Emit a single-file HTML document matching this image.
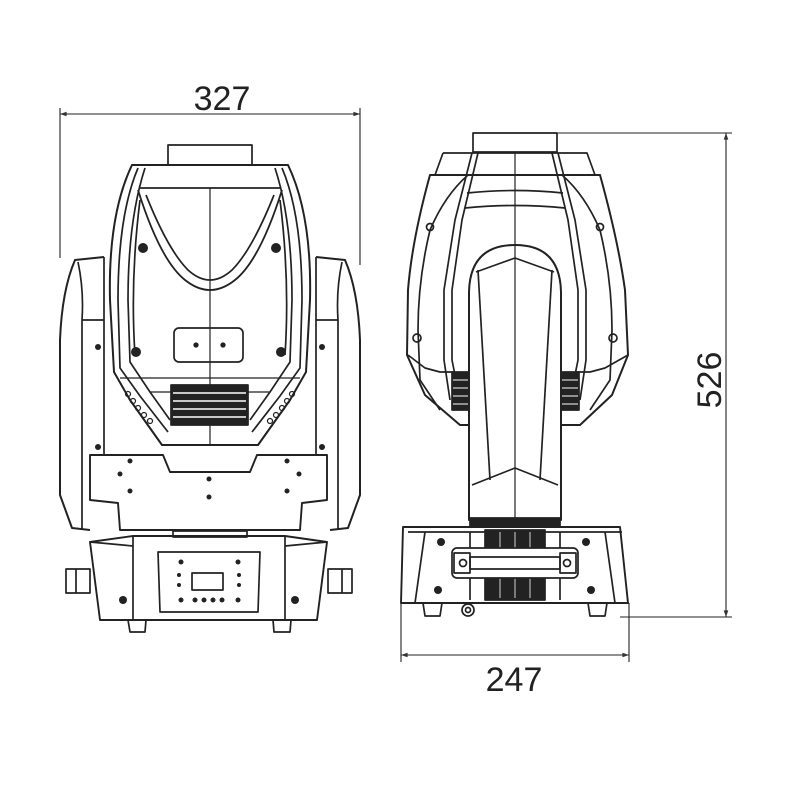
<!DOCTYPE html>
<html><head><meta charset="utf-8"><style>
html,body{margin:0;padding:0;background:#fff;}
svg{display:block}
text{font-family:"Liberation Sans",sans-serif;fill:#222}
</style></head><body>
<svg width="800" height="800" viewBox="0 0 800 800" xmlns="http://www.w3.org/2000/svg">
<defs>
<marker id="ar" viewBox="0 0 10 10" refX="10" refY="5" markerWidth="10" markerHeight="6" orient="auto-start-reverse"><path d="M0,1.5 L10,5 L0,8.5z" fill="#333"/></marker>
</defs>
<g fill="none" stroke="#222" stroke-width="1.7" stroke-linejoin="round">
<line x1="60" y1="108" x2="60" y2="258" stroke-width="1.1"/>
<line x1="360" y1="108" x2="360" y2="265" stroke-width="1.1"/>
<line x1="60" y1="114" x2="360" y2="114" stroke-width="1.1" marker-start="url(#ar)" marker-end="url(#ar)"/>

<rect x="168" y="145" width="84" height="20"/>
<path d="M132,165 L288,165 Q312,215 310,300 L306,372 L290,400 L258,445 L162,445 L130,400 L114,372 L110,300 Q108,215 132,165Z" stroke-width="2"/>
<path d="M138,168 Q118,215 118,300 L120,368 L140,396 L168,432" />
<path d="M282,168 Q302,215 302,300 L300,368 L280,396 L252,432" />
<path d="M145,168 Q128,220 128,300 L130,362 L150,392 L170,420" />
<path d="M275,168 Q292,220 292,300 L290,362 L270,392 L250,420" />
<line x1="140" y1="188" x2="280" y2="188"/>
<line x1="210" y1="188" x2="210" y2="445" stroke-width="1.2"/>
<path d="M138,190 Q160,260 185,280 Q210,300 235,280 Q260,260 282,190" stroke-width="1.8"/>
<path d="M146,195 Q168,250 188,270 Q210,290 232,270 Q252,250 274,195"/>
<path d="M140,200 Q130,280 135,355" />
<path d="M280,200 Q290,280 285,355" />
<rect x="174" y="328" width="69" height="34" rx="5"/>
<circle cx="196" cy="345" r="1.8" fill="#222"/>
<circle cx="223" cy="345" r="1.8" fill="#222"/>
<line x1="120" y1="378" x2="300" y2="378" stroke-width="1.2"/>
<line x1="150" y1="392" x2="270" y2="392" stroke-width="1.2"/>
<rect x="171" y="385" width="77" height="40" fill="#222"/>
<g stroke="#fff" stroke-width="1.5"><line x1="173" y1="393" x2="246" y2="393"/><line x1="173" y1="401" x2="246" y2="401"/><line x1="173" y1="409" x2="246" y2="409"/><line x1="173" y1="417" x2="246" y2="417"/></g>
<g stroke-width="1.2"><circle cx="128" cy="394" r="2.5"/><circle cx="133" cy="401" r="2.5"/><circle cx="138" cy="408" r="2.5"/><circle cx="144" cy="415" r="2.5"/><circle cx="150" cy="421" r="2.5"/>
<circle cx="292" cy="394" r="2.5"/><circle cx="287" cy="401" r="2.5"/><circle cx="282" cy="408" r="2.5"/><circle cx="276" cy="415" r="2.5"/><circle cx="270" cy="421" r="2.5"/></g>
<g fill="#222" stroke="none"><circle cx="143" cy="248" r="5"/><circle cx="276" cy="248" r="5"/><circle cx="136" cy="352" r="5"/><circle cx="281" cy="352" r="5"/></g>
<path d="M104,257 L75,260 Q62,290 60,340 L60,495 L72,528 L90,530" stroke-width="2"/>
<path d="M78,262 Q84,290 82,320 L82,530"/>
<line x1="82" y1="320" x2="104" y2="320"/>
<line x1="104" y1="257" x2="104" y2="455"/>
<path d="M316,257 L345,260 Q358,290 360,340 L360,495 L348,528 L330,530" stroke-width="2"/>
<path d="M342,262 Q336,290 338,320 L338,530"/>
<line x1="338" y1="320" x2="316" y2="320"/>
<line x1="316" y1="257" x2="316" y2="455"/>
<g fill="#222" stroke="none"><circle cx="98" cy="347" r="3"/><circle cx="98" cy="447" r="3"/><circle cx="322" cy="347" r="3"/><circle cx="322" cy="447" r="3"/></g>
<path d="M90,455 L163,455 L170,472 L250,472 L257,455 L327,455 L327,500 L302,503 L300,530 L120,530 L118,503 L90,500Z" stroke-width="1.9"/>
<g fill="#222" stroke="none"><circle cx="130" cy="461" r="2.5"/><circle cx="120" cy="474" r="2.5"/><circle cx="130" cy="491" r="2.5"/><circle cx="209" cy="479" r="2.5"/><circle cx="209" cy="497" r="2.5"/><circle cx="287" cy="461" r="2.5"/><circle cx="299" cy="474" r="2.5"/><circle cx="287" cy="491" r="2.5"/></g>
<rect x="173" y="531" width="74" height="6"/>
<path d="M90,542 L133,536 L285,536 L327,542 L317,620 L100,620Z" stroke-width="1.9"/>
<line x1="133" y1="536" x2="133" y2="620"/>
<line x1="285" y1="536" x2="285" y2="620"/>
<path d="M90,542 L133,546"/><path d="M327,542 L285,546"/>
<path d="M158,552 L260,552 L258,612 L160,612Z"/>
<rect x="192" y="573" width="31" height="17"/>
<g fill="#222" stroke="none"><circle cx="181" cy="562" r="2.5"/><circle cx="238" cy="562" r="2.5"/><circle cx="179" cy="575" r="2"/><circle cx="179" cy="585" r="2"/><circle cx="239" cy="575" r="2"/><circle cx="239" cy="585" r="2"/>
<circle cx="181" cy="600" r="2.5"/><circle cx="195" cy="600" r="2.5"/><circle cx="204" cy="600" r="2.5"/><circle cx="213" cy="600" r="2.5"/><circle cx="222" cy="600" r="2.5"/><circle cx="238" cy="600" r="2.5"/>
<circle cx="123" cy="600" r="4"/><circle cx="295" cy="600" r="4"/></g>
<rect x="66" y="569" width="24" height="24"/><line x1="76" y1="569" x2="76" y2="593"/>
<rect x="328" y="569" width="24" height="24"/><line x1="342" y1="569" x2="342" y2="593"/>
<path d="M128,620 L130,632 L145,632 L146,620"/>
<path d="M273,620 L274,632 L290,632 L291,620"/>

<rect x="473" y="133" width="84" height="19"/>
<line x1="557" y1="133" x2="732" y2="133" stroke-width="1.1"/>
<line x1="726" y1="133" x2="726" y2="617" stroke-width="1.1" marker-start="url(#ar)" marker-end="url(#ar)"/>
<line x1="620" y1="617" x2="732" y2="617" stroke-width="1.1"/>
<path d="M443,153 L587,153 L595,175"/>
<path d="M443,153 L435,175"/>
<path d="M430,175 L600,175 Q618,240 625,290 L628,355 L612,395 L580,425 L460,425 L425,395 L407,355 L408,290 Q412,240 430,175Z" stroke-width="2"/>
<path d="M468,175 Q445,195 430,230 Q418,280 418,330 L420,380 L440,410"/>
<path d="M562,175 Q585,195 600,230 Q612,280 612,330 L610,380 L590,410"/>
<path d="M478,153 L462,220 L452,290 L452,360 L460,400"/>
<path d="M552,153 L568,220 L578,290 L578,360 L570,400"/>
<path d="M472,153 L455,220 L444,290 L444,360 L450,400"/>
<path d="M558,153 L575,220 L586,290 L586,360 L580,400"/>
<line x1="515" y1="153" x2="515" y2="518" stroke-width="1.2"/>
<path d="M467,193 Q515,188 563,193"/>
<path d="M465,208 Q515,203 565,208"/>
<circle cx="430" cy="227" r="3.5"/><circle cx="600" cy="227" r="3.5"/>
<circle cx="417" cy="338" r="4"/><circle cx="613" cy="338" r="4"/>
<path d="M408,355 L425,368 L440,372 L455,372"/><path d="M628,355 L605,368 L590,372 L575,372"/>
<rect x="452" y="372" width="18" height="38" fill="#222"/>
<rect x="561" y="372" width="18" height="38" fill="#222"/>
<g stroke="#fff" stroke-width="1"><line x1="453" y1="380" x2="469" y2="380"/><line x1="453" y1="388" x2="469" y2="388"/><line x1="453" y1="396" x2="469" y2="396"/><line x1="453" y1="404" x2="469" y2="404"/><line x1="562" y1="380" x2="578" y2="380"/><line x1="562" y1="388" x2="578" y2="388"/><line x1="562" y1="396" x2="578" y2="396"/><line x1="562" y1="404" x2="578" y2="404"/></g>
<path d="M469,520 L469,292 Q470,245 515,245 Q560,245 561,292 L561,520Z" fill="#fff" stroke-width="2"/>
<path d="M476,272 L515,258 L554,272"/>
<path d="M478,270 L490,480"/><path d="M552,270 L540,480"/>
<path d="M472,485 L515,468 L558,485"/>
<line x1="515" y1="245" x2="515" y2="518" stroke-width="1.2"/>
<rect x="470" y="518" width="90" height="8" fill="#222"/>
<path d="M403,527 L620,527 L628,603 L401,603Z" stroke-width="1.9"/>
<path d="M408,532 L622,532"/>
<path d="M425,532 L415,603"/><path d="M605,532 L615,603"/>
<rect x="485" y="530" width="60" height="70" fill="#222"/>
<g stroke="#fff" stroke-width="0.8"><line x1="500" y1="532" x2="500" y2="598"/><line x1="515" y1="532" x2="515" y2="598"/><line x1="530" y1="532" x2="530" y2="598"/></g>
<path d="M470,532 L470,600"/><path d="M560,532 L560,600"/>
<rect x="452" y="548" width="126" height="30" rx="5" fill="#fff"/>
<rect x="470" y="557" width="90" height="12" fill="#fff"/>
<rect x="454" y="553" width="16" height="20"/><rect x="560" y="553" width="16" height="20"/>
<circle cx="463" cy="563" r="3.5"/><circle cx="567" cy="563" r="3.5"/>
<g fill="#222" stroke="none"><circle cx="441" cy="542" r="4"/><circle cx="586" cy="542" r="4"/><circle cx="438" cy="590" r="4"/><circle cx="591" cy="590" r="4"/></g>
<path d="M423,603 L425,616 L440,616 L442,603"/>
<path d="M588,603 L590,616 L605,616 L607,603"/>
<circle cx="468" cy="610" r="6"/><circle cx="468" cy="610" r="2.5"/>
<line x1="401" y1="603" x2="401" y2="662" stroke-width="1.1"/>
<line x1="629" y1="603" x2="629" y2="662" stroke-width="1.1"/>
<line x1="401" y1="655" x2="629" y2="655" stroke-width="1.1" marker-start="url(#ar)" marker-end="url(#ar)"/>
</g>
<text x="222" y="110" font-size="34" text-anchor="middle">327</text>
<text x="514" y="691" font-size="34" text-anchor="middle">247</text>
<text x="0" y="0" font-size="34" text-anchor="middle" transform="translate(721,380) rotate(-90)">526</text>
</svg>
</body></html>
